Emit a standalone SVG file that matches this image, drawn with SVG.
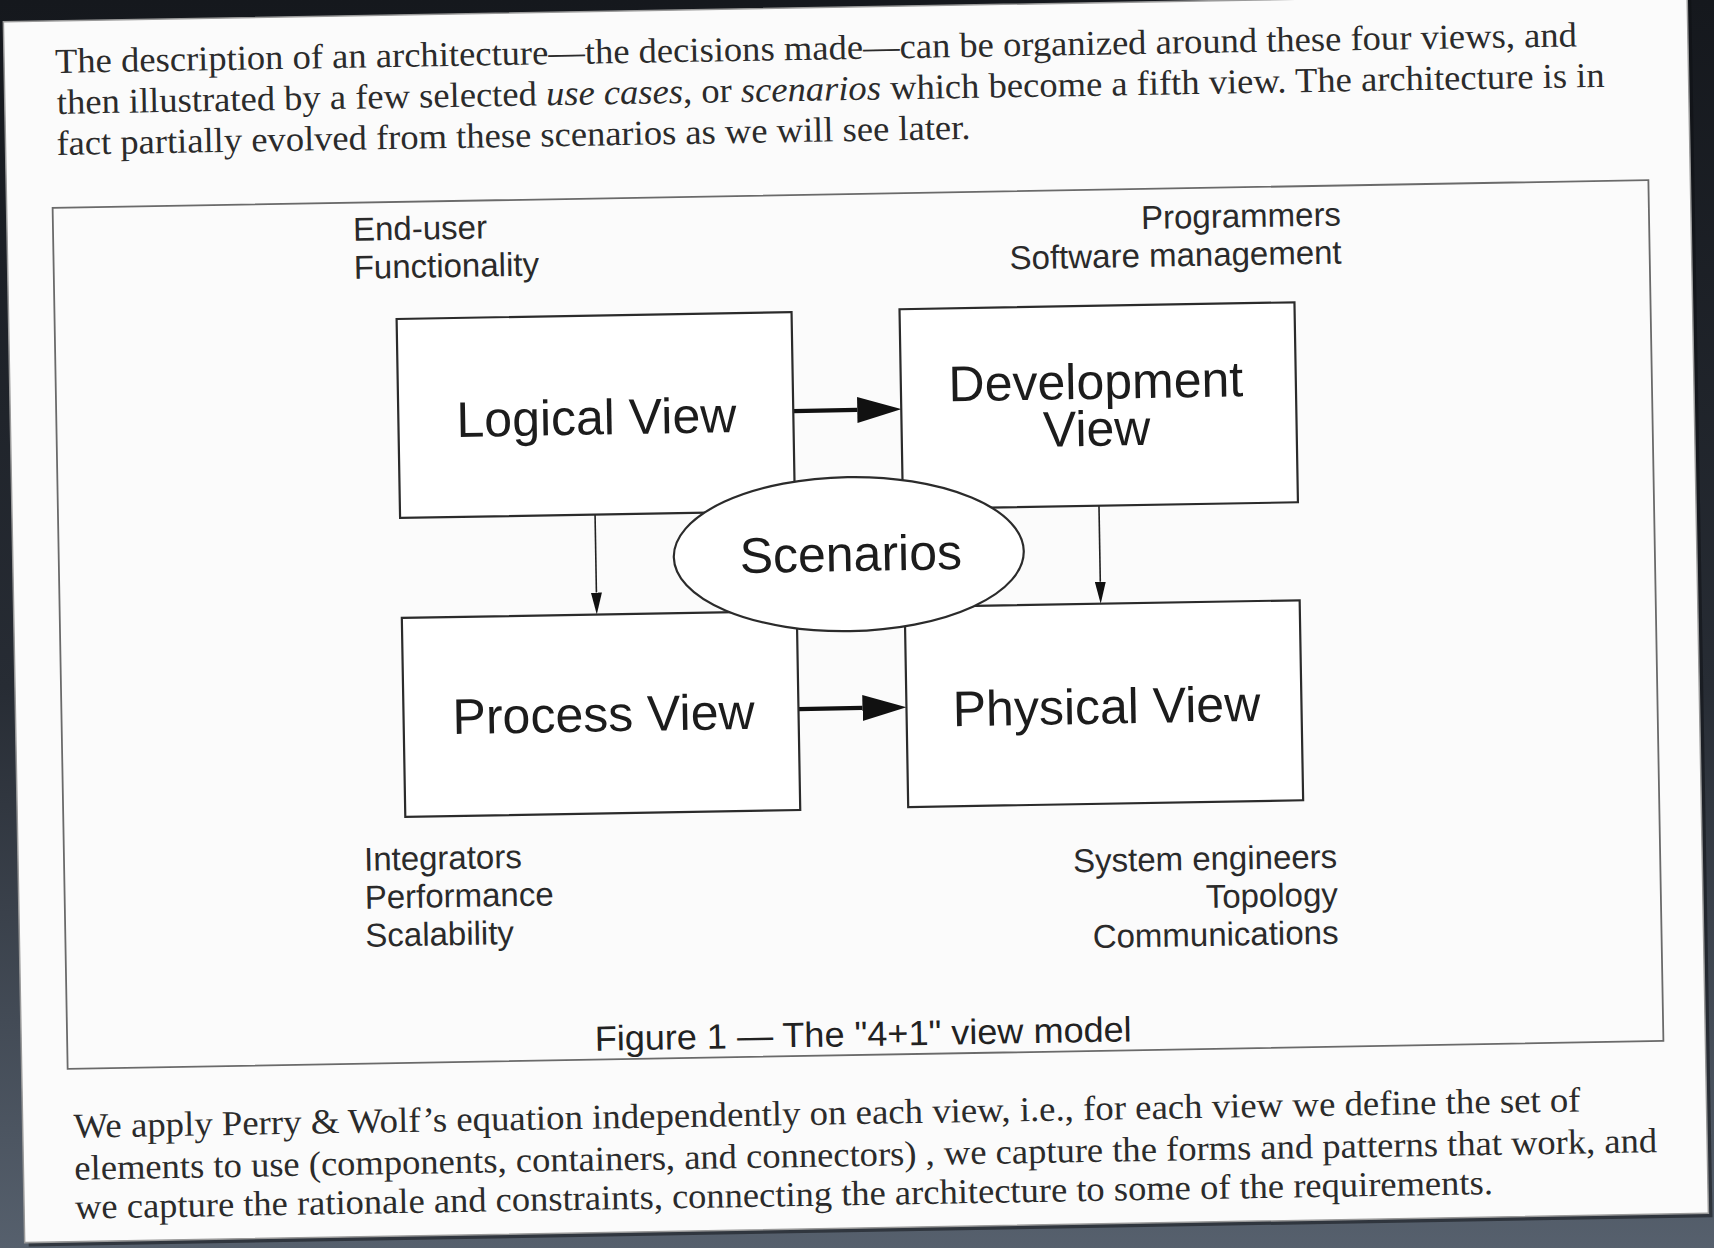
<svg xmlns="http://www.w3.org/2000/svg" width="1714" height="1248" viewBox="0 0 1714 1248">
<defs>
  <linearGradient id="bg" x1="0" y1="0" x2="0" y2="1">
    <stop offset="0" stop-color="#15181d"/>
    <stop offset="0.55" stop-color="#272c34"/>
    <stop offset="1" stop-color="#56606d"/>
  </linearGradient>
  <marker id="headBig" markerUnits="userSpaceOnUse" viewBox="0 0 44 26" refX="0" refY="13" markerWidth="44" markerHeight="26" orient="auto">
    <path d="M0,0 L44,13 L0,26 Z" fill="#111"/>
  </marker>
  <marker id="headSmall" markerUnits="userSpaceOnUse" viewBox="0 0 22 11" refX="0" refY="5.5" markerWidth="22" markerHeight="11" orient="auto">
    <path d="M0,0 L22,5.5 L0,11 Z" fill="#111"/>
  </marker>
  <style>
    .page { fill:#fbfbfb; stroke:#9a9a9a; stroke-width:1.5; }
    .frame { fill:none; stroke:#6a6a6a; stroke-width:1.8; }
    .box { fill:#ffffff; stroke:#2b2b2b; stroke-width:2.2; }
    .big { font-family:"Liberation Sans", Arial, sans-serif; font-size:50px; fill:#1c1c1c; text-anchor:middle; }
    .lab { font-family:"Liberation Sans", Arial, sans-serif; font-size:33px; fill:#2a2a2a; }
    .lab.r { text-anchor:end; }
    .cap { font-family:"Liberation Sans", Arial, sans-serif; font-size:35px; fill:#222; text-anchor:middle; }
    .para { font-family:"Liberation Serif", "Times New Roman", serif; font-size:35px; fill:#2b2b2b; }
    .thick { stroke:#111; stroke-width:4.2; fill:none; }
    .thin { stroke:#222; stroke-width:1.6; fill:none; }
  </style>
</defs>
<rect x="0" y="0" width="1714" height="1248" fill="url(#bg)"/>
<g transform="rotate(-1 857 624)">
  <rect x="18" y="11" width="1684" height="1221" fill="#0c0e12" opacity="0.5"/>
  <rect class="page" x="14" y="7" width="1684" height="1221"/>

  <g id="text-top">
    <text class="para" x="65" y="59" textLength="1522" lengthAdjust="spacingAndGlyphs">The description of an architecture—the decisions made—can be organized around these four views, and</text>
    <text class="para" x="66" y="100" textLength="1548" lengthAdjust="spacingAndGlyphs">then illustrated by a few selected <tspan font-style="italic">use cases</tspan>, or <tspan font-style="italic">scenarios</tspan> which become a fifth view. The architecture is in</text>
    <text class="para" x="65" y="141" textLength="914" lengthAdjust="spacingAndGlyphs">fact partially evolved from these scenarios as we will see later.</text>
  </g>

  <rect class="frame" x="60" y="194" width="1596" height="861"/>

  <g id="labels">
    <text class="lab" x="360" y="232">End-user</text>
    <text class="lab" x="360" y="270">Functionality</text>
    <text class="lab r" x="1348" y="234">Programmers</text>
    <text class="lab r" x="1348" y="272">Software management</text>
    <text class="lab" x="360" y="862">Integrators</text>
    <text class="lab" x="360" y="900">Performance</text>
    <text class="lab" x="360" y="938">Scalability</text>
    <text class="lab r" x="1333" y="876">System engineers</text>
    <text class="lab r" x="1333" y="914">Topology</text>
    <text class="lab r" x="1333" y="952">Communications</text>
  </g>

  <g id="connectors">
    <line class="thick" x1="797" y1="410" x2="861" y2="410" marker-end="url(#headBig)"/>
    <line class="thick" x1="797" y1="708" x2="861" y2="708" marker-end="url(#headBig)"/>
    <line class="thin" x1="597" y1="510" x2="597" y2="588" marker-end="url(#headSmall)"/>
    <line class="thin" x1="1101" y1="510" x2="1101" y2="586" marker-end="url(#headSmall)"/>
  </g>

  <g id="node-logical">
    <rect class="box" x="402" y="311" width="395" height="199"/>
    <text class="big" x="600" y="430">Logical View</text>
  </g>
  <g id="node-development">
    <rect class="box" x="905" y="310" width="395" height="200"/>
    <text class="big" x="1100" y="403">Development</text>
    <text class="big" x="1100" y="450">View</text>
  </g>
  <g id="node-process">
    <rect class="box" x="402" y="610" width="395" height="199"/>
    <text class="big" x="602" y="727">Process View</text>
  </g>
  <g id="node-physical">
    <rect class="box" x="905" y="608" width="395" height="200"/>
    <text class="big" x="1105" y="728">Physical View</text>
  </g>
  <g id="node-scenarios">
    <ellipse class="box" cx="850" cy="554" rx="175" ry="77"/>
    <text class="big" x="852" y="571">Scenarios</text>
  </g>

  <text id="caption" class="cap" x="856" y="1046" textLength="537" lengthAdjust="spacingAndGlyphs">Figure 1 — The "4+1" view model</text>

  <g id="text-bottom">
    <text class="para" x="65" y="1124" textLength="1507" lengthAdjust="spacingAndGlyphs">We apply Perry &amp; Wolf’s equation independently on each view, i.e., for each view we define the set of</text>
    <text class="para" x="65" y="1166" textLength="1583" lengthAdjust="spacingAndGlyphs">elements to use (components, containers, and connectors) , we capture the forms and patterns that work, and</text>
    <text class="para" x="65" y="1205" textLength="1418" lengthAdjust="spacingAndGlyphs">we capture the rationale and constraints, connecting the architecture to some of the requirements.</text>
  </g>
</g>
</svg>
